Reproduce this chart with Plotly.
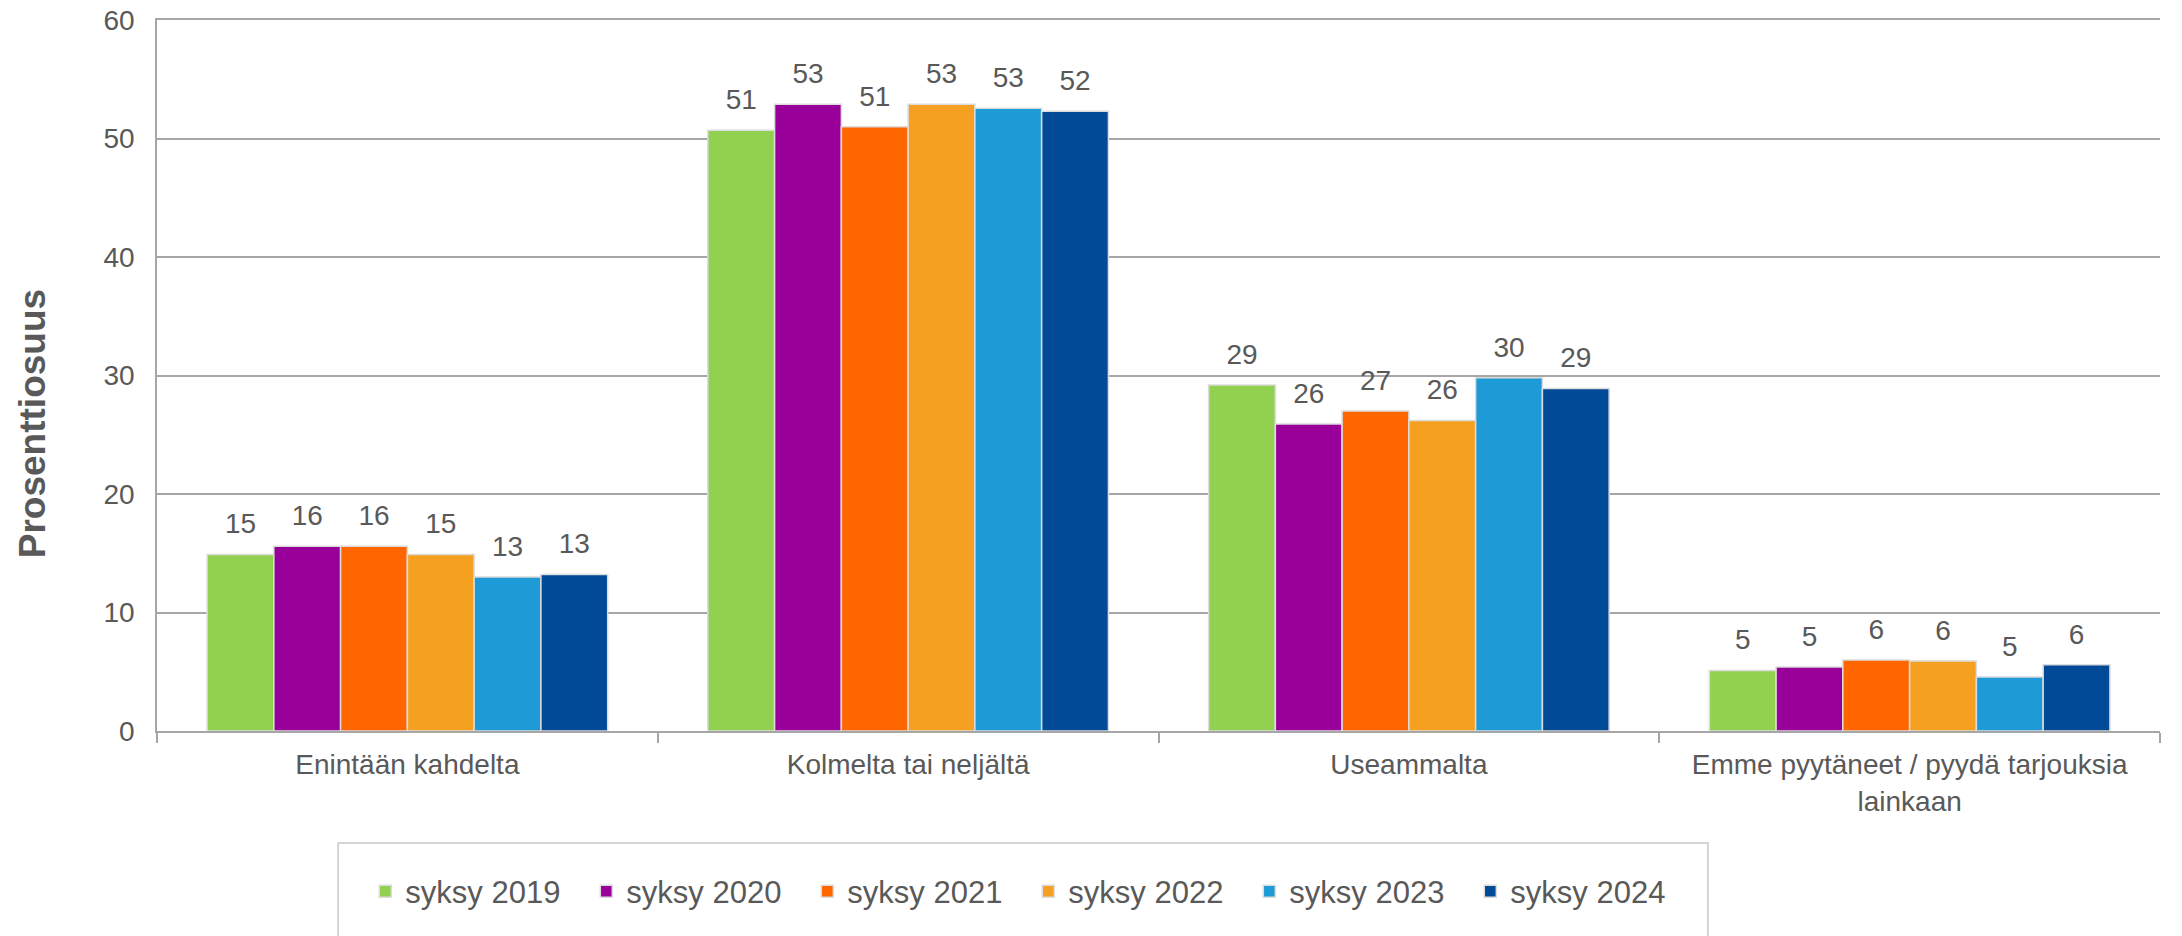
import plotly.graph_objects as go

categories = ["Enintään kahdelta", "Kolmelta tai neljältä", "Useammalta",
              "Emme pyytäneet / pyydä tarjouksia<br>lainkaan"]
series_names = ["syksy 2019", "syksy 2020", "syksy 2021",
                "syksy 2022", "syksy 2023", "syksy 2024"]
syksy_2019 = [14.9, 50.7, 29.2, 5.1]
syksy_2020 = [15.6, 52.9, 25.9, 5.4]
syksy_2021 = [15.6, 51.0, 27.0, 6.0]
syksy_2022 = [14.9, 52.9, 26.2, 5.9]
syksy_2023 = [13.0, 52.55, 29.8, 4.55]
syksy_2024 = [13.2, 52.3, 28.9, 5.6]
y_ticks = [0, 10, 20, 30, 40, 50, 60]

values = [syksy_2019, syksy_2020, syksy_2021, syksy_2022, syksy_2023, syksy_2024]
colors = ["#92D050", "#990099", "#FF6600", "#F6A021", "#1E9AD6", "#004A98"]

FONT = "Arial, Liberation Sans, sans-serif"
GREY_TXT = "#595959"
GRID = "#a6a6a6"

fig = go.Figure()

for i, (name, vals) in enumerate(zip(series_names, values)):
    fig.add_trace(go.Bar(
        x=categories, y=vals, name=name,
        offsetgroup=str(i), alignmentgroup="a",
        marker=dict(color=colors[i], line=dict(color="#dcdcdc", width=1.5)),
    ))

# data labels, pushed a bit above the bar tops like the original
for i, vals in enumerate(values):
    fig.add_trace(go.Scatter(
        x=categories, y=vals, mode="markers+text",
        offsetgroup=str(i), alignmentgroup="a",
        text=[str(int(v + 0.5)) for v in vals],
        textposition="top center",
        textfont=dict(family=FONT, size=28, color=GREY_TXT),
        marker=dict(size=21, opacity=0),
        showlegend=False, hoverinfo="skip", cliponaxis=False,
    ))

fig.update_layout(
    width=2182, height=936,
    margin=dict(l=157, r=22, t=20, b=205),
    paper_bgcolor="white", plot_bgcolor="white",
    barmode="group", bargap=0.2, bargroupgap=0,
    scattermode="group", scattergap=0.2,
    font=dict(family=FONT, color=GREY_TXT),
    showlegend=True,
    legend=dict(
        orientation="h", x=0.104, xanchor="left", y=-0.226, yanchor="middle",
        font=dict(family=FONT, size=31, color=GREY_TXT),
        entrywidth=176, entrywidthmode="pixels",
        traceorder="normal", bgcolor="rgba(0,0,0,0)",
    ),
    shapes=[dict(
        type="rect", xref="paper", yref="paper",
        x0=0.0904, x1=0.7743, y0=-0.1575, y1=-0.32,
        line=dict(color="#c8c8c8", width=1.5), fillcolor="rgba(0,0,0,0)",
    )],
    # y-axis title sits below the axis middle in the original
    annotations=[dict(
        text="<b>Prosenttiosuus</b>", textangle=-90,
        xref="paper", yref="paper", x=-0.0624, y=0.4315,
        xanchor="center", yanchor="middle", showarrow=False,
        font=dict(family=FONT, size=37, color=GREY_TXT),
    )],
)

fig.update_xaxes(
    automargin=False,
    showline=True, linecolor=GRID, linewidth=1.5, mirror=True,
    ticks="outside", tickson="boundaries", ticklen=10,
    tickcolor=GRID, tickwidth=1.5, ticklabelstandoff=8,
    showgrid=False,
    tickfont=dict(family=FONT, size=28, color=GREY_TXT),
)
fig.update_yaxes(
    automargin=False,
    range=[0, 60], tickvals=y_ticks,
    showline=True, linecolor=GRID, linewidth=1.5,
    showgrid=True, gridcolor=GRID, gridwidth=1.5,
    zeroline=False, ticks="", ticklabelstandoff=15,
    tickfont=dict(family=FONT, size=28, color=GREY_TXT),
)

# drop the browser's default 8px body margin so the figure fills the window
fig.write_html("out.html", config={"displayModeBar": False},
               post_script="document.body.style.margin='0';")
